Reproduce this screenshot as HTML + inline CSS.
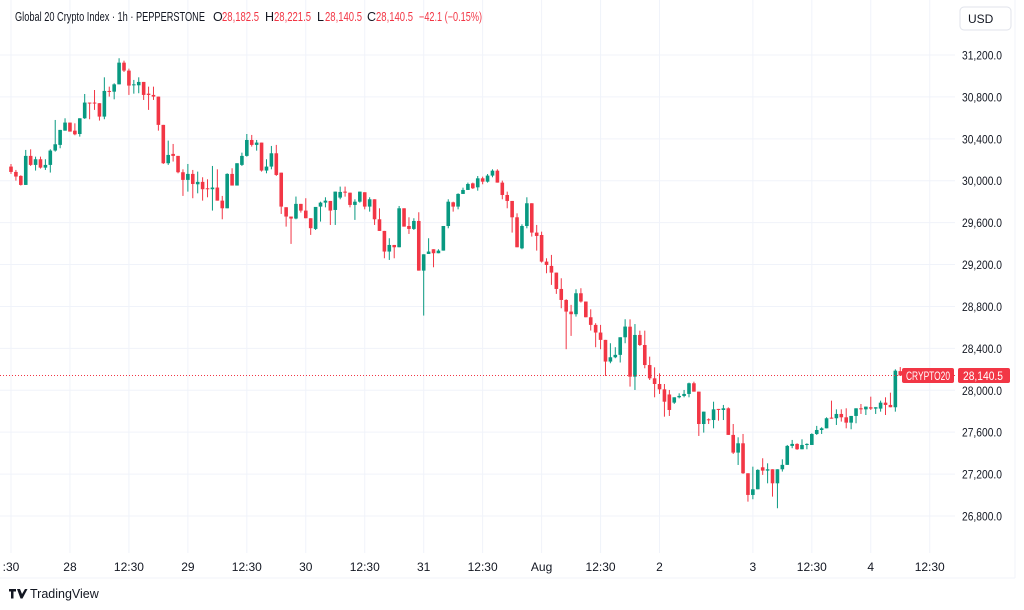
<!DOCTYPE html>
<html><head><meta charset="utf-8"><style>
html,body{margin:0;padding:0;background:#fff;}
svg{display:block;font-family:"Liberation Sans",sans-serif;}
</style></head><body>
<svg id="chart" width="1024" height="610" viewBox="0 0 1024 610" xmlns="http://www.w3.org/2000/svg">
<rect x="0" y="0" width="1024" height="610" fill="#ffffff"/>
<g id="grid"></g>
<g id="candles"></g>
<g id="yaxis"></g>
<g id="xaxis"></g>
<line x1="1015" y1="0" x2="1015" y2="578" stroke="#f0f3fa"/>
<line x1="0" y1="578" x2="1015" y2="578" stroke="#f0f3fa"/>
<g font-size="12.5">
<text x="15" y="21" fill="#131722" textLength="190" lengthAdjust="spacingAndGlyphs">Global 20 Crypto Index · 1h · PEPPERSTONE</text>
<text x="213" y="21" fill="#131722">O</text>
<text x="222" y="21" fill="#f23645" textLength="37" lengthAdjust="spacingAndGlyphs">28,182.5</text>
<text x="265" y="21" fill="#131722">H</text>
<text x="274" y="21" fill="#f23645" textLength="37" lengthAdjust="spacingAndGlyphs">28,221.5</text>
<text x="317" y="21" fill="#131722">L</text>
<text x="325" y="21" fill="#f23645" textLength="37" lengthAdjust="spacingAndGlyphs">28,140.5</text>
<text x="367" y="21" fill="#131722">C</text>
<text x="376" y="21" fill="#f23645" textLength="37" lengthAdjust="spacingAndGlyphs">28,140.5</text>
<text x="419" y="21" fill="#f23645" textLength="63" lengthAdjust="spacingAndGlyphs">−42.1 (−0.15%)</text>
</g>
<rect x="960" y="7" width="51" height="23" rx="4" fill="#fff" stroke="#e0e3eb"/>
<text x="968" y="23" font-size="12" fill="#131722">USD</text>
<g>
<path d="M9 589h7v2.5h-2.5v7h-2.5v-7H9z M17 589h3l2 5 3-5h2.5l-5 9.5h-2z" fill="#131722"/>
<text x="30" y="598" font-size="12.5" fill="#131722">TradingView</text>
</g>
</svg>
<script>
const opens=[30135,30084,30046,29960,30237,30151,30205,30125,30151,30288,30342,30478,30555,30478,30446,30596,30746,30746,30740,30612,30857,30850,30920,31127,31051,30911,30911,30943,30831,30819,30803,30533,30167,30256,30237,30081,30008,30065,29966,29989,29928,29919,29935,29810,29737,30065,29954,30151,30237,30389,30342,30364,30097,30135,30262,30077,29747,29658,29639,29779,29715,29642,29540,29753,29791,29807,29721,29839,29896,29886,29769,29800,29890,29753,29823,29632,29521,29324,29387,29365,29737,29568,29540,29616,29142,29301,29346,29308,29333,29568,29794,29753,29874,29912,29975,29937,30023,29991,30049,30096,29982,29864,29807,29651,29355,29568,29785,29505,29482,29228,29187,29123,28967,28862,28751,28726,28926,28847,28697,28624,28551,28481,28274,28315,28338,28506,28607,28130,28528,28432,28241,28114,28060,28009,27960,27882,27933,27946,27965,28067,27987,27678,27723,27716,27822,27812,27828,27574,27405,27494,27208,27001,27055,27265,27233,27246,27112,27246,27288,27469,27488,27437,27478,27478,27583,27621,27637,27739,27733,27774,27742,27691,27755,27828,27818,27838,27825,27825,27882,27860,27838,28182.5];
const highs=[30160,30103,30052,30294,30300,30230,30230,30205,30300,30580,30485,30596,30555,30548,30596,30828,30746,30866,30740,30987,30898,30930,31169,31146,31070,30962,30987,30943,30898,30898,30803,30533,30383,30351,30237,30109,30160,30103,30087,30033,30014,30141,30109,29855,30071,30119,30167,30268,30446,30437,30389,30364,30205,30332,30342,30077,29747,29658,29849,29779,29833,29642,29664,29800,29842,29807,29896,29944,29944,29886,29823,29896,29890,29842,29823,29737,29521,29451,29387,29759,29737,29651,29642,29699,29298,29451,29346,29346,29568,29823,29800,29880,29934,29982,29982,30045,30039,30064,30109,30109,30001,29896,29807,29689,29584,29842,29785,29578,29514,29260,29292,29123,29069,28869,28815,28964,28974,28847,28773,28640,28624,28481,28449,28411,28506,28678,28677,28632,28569,28569,28321,28219,28162,28060,28003,27933,27971,28003,28073,28082,27987,27796,27732,27891,27822,27860,27837,27678,27551,27583,27208,27271,27246,27351,27303,27246,27246,27341,27478,27526,27494,27532,27494,27589,27660,27647,27742,27901,27818,27818,27828,27755,27828,27869,27844,27939,27838,27901,27933,27977,28200,28221.5];
const lows=[30065,30001,29954,29960,30141,30097,30116,30103,30078,30278,30310,30478,30469,30434,30421,30590,30587,30676,30574,30587,30803,30777,30920,31038,30819,30831,30835,30771,30676,30771,30478,30160,30151,30183,30071,29855,29896,29833,29880,29810,29842,29715,29810,29632,29737,29954,29954,30141,30230,30326,30287,30087,30071,30109,30046,29683,29562,29397,29632,29696,29642,29483,29530,29610,29746,29578,29578,29823,29848,29746,29626,29791,29727,29705,29578,29521,29260,29244,29260,29365,29562,29492,29530,29142,28713,29301,29174,29308,29333,29546,29705,29727,29874,29912,29921,29905,29966,29982,30033,29982,29823,29737,29505,29365,29346,29546,29467,29333,29219,29117,29006,28920,28783,28392,28519,28703,28837,28697,28570,28411,28392,28137,28258,28306,28265,28449,28035,28003,28423,28210,28098,27933,27965,27748,27755,27870,27923,27933,27933,27987,27564,27596,27678,27637,27710,27716,27574,27392,27287,27202,26937,26960,27055,27192,27112,26985,26874,27224,27288,27447,27431,27437,27437,27478,27574,27583,27637,27729,27669,27701,27637,27628,27685,27774,27764,27812,27774,27796,27764,27838,27796,28140.5];
const closes=[30084,30040,29960,30237,30151,30205,30125,30151,30288,30348,30485,30555,30469,30443,30596,30746,30740,30740,30612,30857,30850,30920,31127,31051,30908,30920,30943,30819,30819,30803,30533,30167,30246,30237,30081,30008,30065,29969,29989,29919,29919,29935,29810,29737,30065,29954,30167,30237,30389,30342,30364,30097,30135,30262,30055,29753,29658,29639,29779,29715,29642,29547,29750,29791,29810,29715,29896,29893,29886,29769,29800,29896,29753,29823,29632,29521,29324,29387,29365,29737,29562,29540,29616,29142,29298,29324,29308,29333,29568,29800,29753,29874,29912,29969,29928,30023,29991,30049,30096,29982,29864,29807,29651,29365,29568,29785,29505,29473,29228,29196,29123,28967,28862,28751,28726,28926,28847,28697,28624,28551,28481,28274,28315,28338,28506,28608,28130,28528,28432,28241,28114,28060,28009,27891,27812,27933,27946,27965,28067,27987,27678,27796,27716,27818,27812,27828,27574,27405,27494,27208,27001,27055,27240,27233,27246,27112,27246,27288,27469,27488,27437,27478,27488,27583,27621,27637,27733,27729,27774,27742,27691,27755,27828,27818,27844,27825,27838,27882,27860,27838,28187,28140.5];
const priceTicks=[31200,30800,30400,30000,29600,29200,28800,28400,28000,27600,27200,26800];
const timeTickIndex=[0,12,24,36,48,60,72,84,96,108,120,132,151,163,175,187];
const timeTickLabels=[":30","28","12:30","29","12:30","30","12:30","31","12:30","Aug","12:30","2","3","12:30","4","12:30"];
const lastPrice=28140.5;

const NS="http://www.w3.org/2000/svg";
function xOf(i){return 11+i*4.913;}
function yOf(p){return 55+(31200-p)*0.104773;}
function mk(tag,attrs,parent){const e=document.createElementNS(NS,tag);for(const k in attrs)e.setAttribute(k,attrs[k]);parent.appendChild(e);return e;}
const grid=document.getElementById('grid'),cg=document.getElementById('candles'),ya=document.getElementById('yaxis'),xa=document.getElementById('xaxis'),svg=document.getElementById('chart');
function fmt(p){return p.toLocaleString('en-US',{minimumFractionDigits:1,maximumFractionDigits:1});}

priceTicks.forEach(p=>{
  const y=yOf(p);
  const l=mk('line',{x1:0,x2:955,y1:y,y2:y,stroke:'#f0f3fa','stroke-width':1},grid);
  
  
  const t=mk('text',{x:962,y:y+4.5,'font-size':12,fill:'#131722',textLength:40,lengthAdjust:'spacingAndGlyphs'},ya);
  t.textContent=fmt(p);
  
  
});
timeTickIndex.forEach((idx,k)=>{
  const x=xOf(idx);
  const l=mk('line',{x1:x,x2:x,y1:0,y2:553,stroke:'#f0f3fa','stroke-width':1},grid);
  
  
  if(x<955){
    const t=mk('text',{x:x,y:571,'font-size':12,fill:'#131722','text-anchor':'middle'},xa);
    t.textContent=timeTickLabels[k];
    
    
  }
});
for(let i=0;i<opens.length;i++){
  const o=opens[i],c=closes[i],h=highs[i],lo=lows[i];
  const col=c>=o?'#089981':'#f23645';
  const x=xOf(i);
  const g=mk('g',{},cg);
  
  
  const w=mk('line',{x1:x,x2:x,y1:yOf(h),y2:yOf(lo),stroke:col,'stroke-width':1},g);
  
  
  const yt=yOf(Math.max(o,c)),yb=yOf(Math.min(o,c));
  const b=mk('rect',{x:x-1.8,y:yt,width:3.6,height:Math.max(1,yb-yt),fill:col},g);
  
  
}
const ly=yOf(lastPrice);
const dl=mk('line',{x1:0,x2:955,y1:ly,y2:ly,stroke:'#f23645','stroke-width':1,'stroke-dasharray':'1 2'},svg);


const sb=mk('rect',{x:902,y:ly-7.5,width:52,height:15,rx:2,fill:'#f23645'},svg);


const st=mk('text',{x:906,y:ly+4.5,'font-size':12,fill:'#fff',textLength:44,lengthAdjust:'spacingAndGlyphs'},svg);
st.textContent='CRYPTO20';


const pb=mk('rect',{x:958,y:ly-7.5,width:52,height:15,rx:2,fill:'#f23645'},svg);


const pt=mk('text',{x:963,y:ly+4.5,'font-size':12,fill:'#fff',textLength:40,lengthAdjust:'spacingAndGlyphs'},svg);
pt.textContent=fmt(lastPrice);


</script>
</body></html>
